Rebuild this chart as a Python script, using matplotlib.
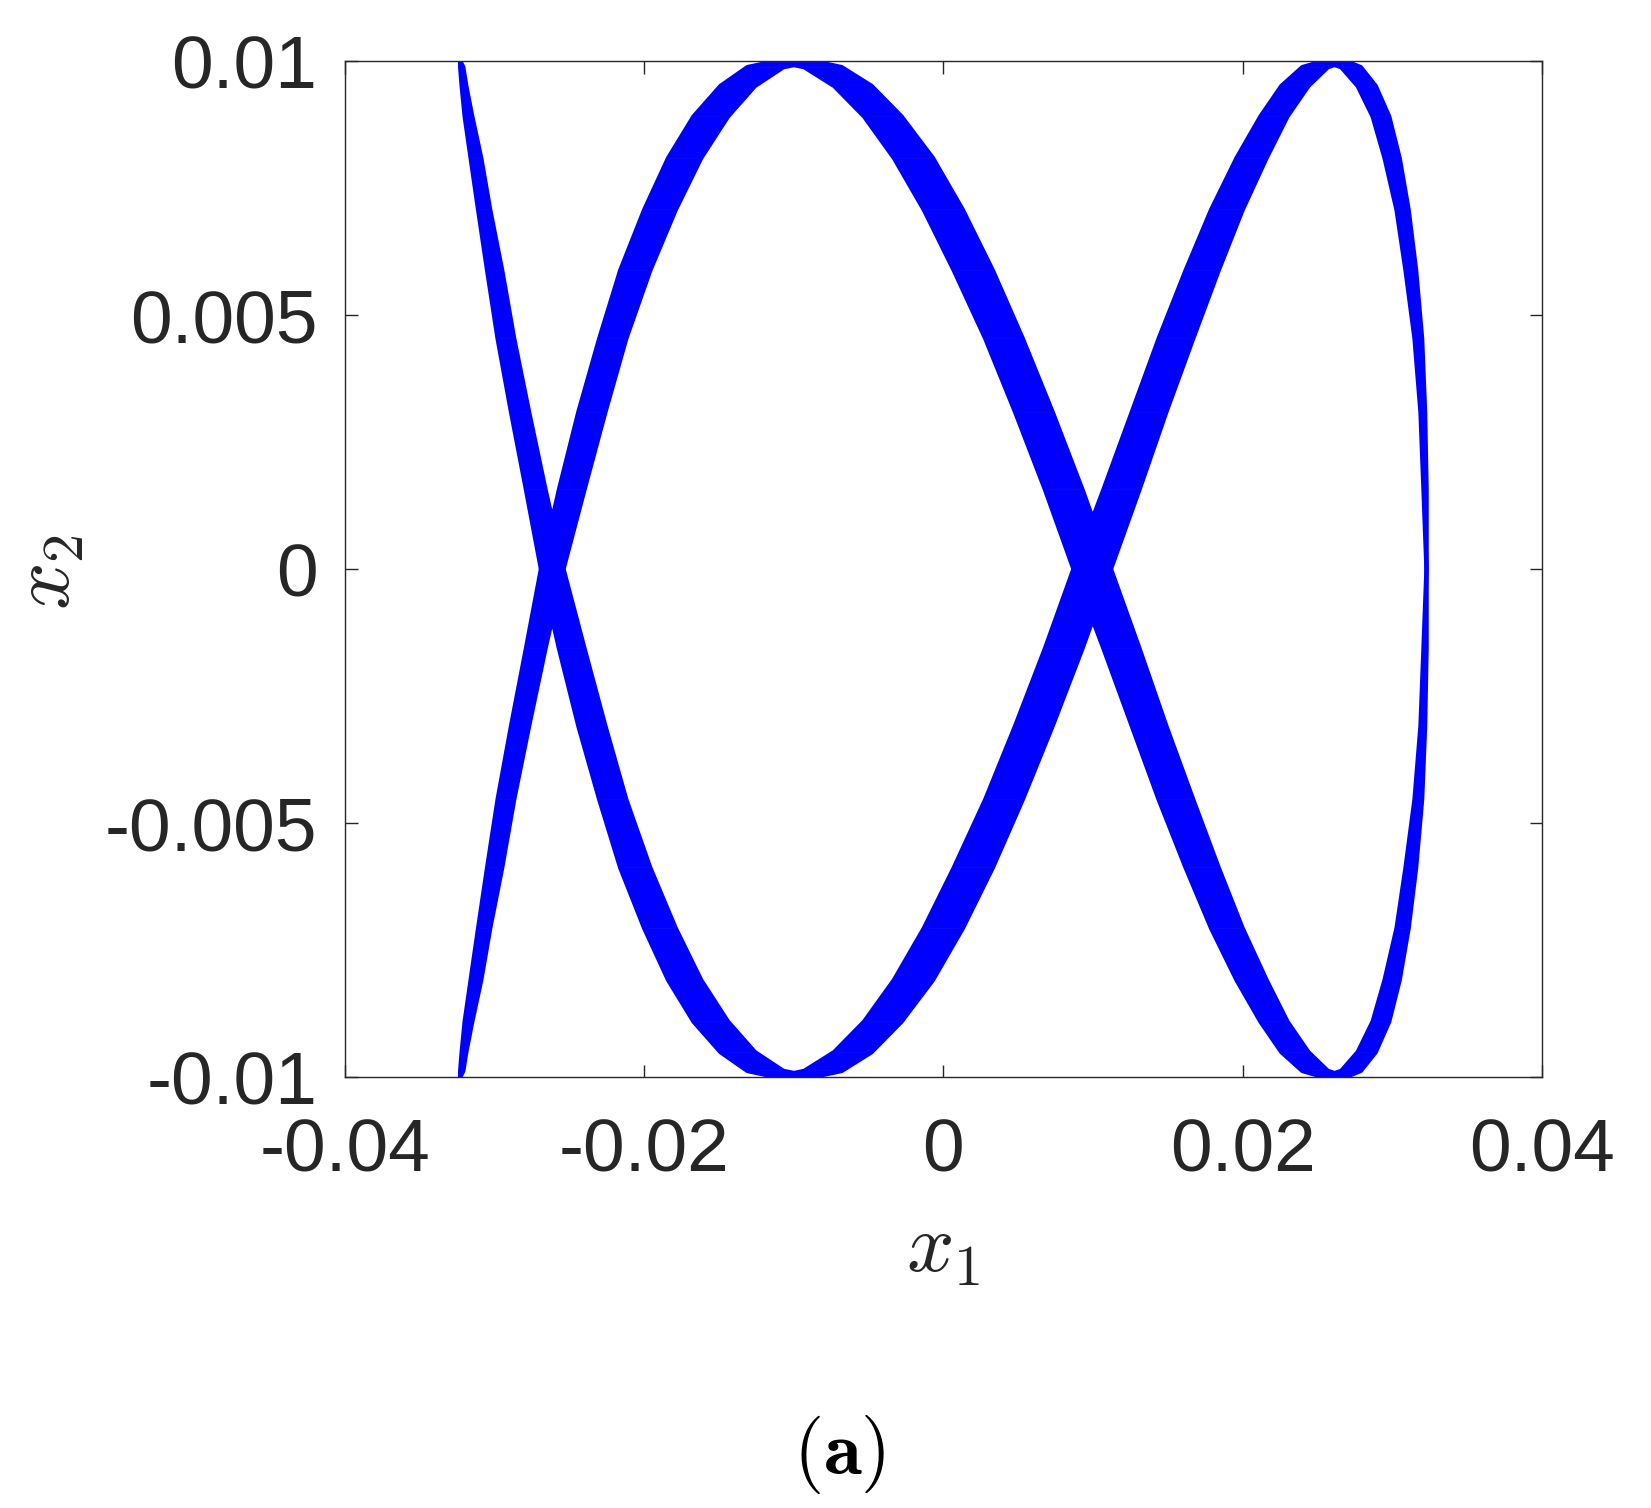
import matplotlib
matplotlib.use('Agg')
import matplotlib.pyplot as plt
from matplotlib.collections import PolyCollection

plt.rcParams['font.family'] = ['Liberation Sans', 'DejaVu Sans']
plt.rcParams['mathtext.fontset'] = 'cm'

# trajectory (units of 1e-3); two traces bound the blue band
x2_vals = [10.0, 9.88, 9.51, 8.91, 8.09, 7.07, 5.88, 4.54, 3.09, 1.56,
           0.0, -1.56, -3.09, -4.54, -5.88, -7.07, -8.09, -8.91, -9.51, -9.88,
           -10.0, -9.88, -9.51, -8.91, -8.09, -7.07, -5.88, -4.54, -3.09, -1.56,
           0.0, 1.56, 3.09, 4.54, 5.88, 7.07, 8.09, 8.91, 9.51, 9.88,
           10.0, 9.88, 9.51, 8.91, 8.09, 7.07, 5.88, 4.54, 3.09, 1.56,
           0.0, -1.56, -3.09, -4.54, -5.88, -7.07, -8.09, -8.91, -9.51, -9.88,
           -10.0, -9.88, -9.51, -8.91, -8.09, -7.07, -5.88, -4.54, -3.09, -1.56,
           0.0, 1.56, 3.09, 4.54, 5.88, 7.07, 8.09, 8.91, 9.51, 9.88,
           10.0, 9.88, 9.51, 8.91, 8.09, 7.07, 5.88, 4.54, 3.09, 1.56,
           0.0, -1.56, -3.09, -4.54, -5.88, -7.07, -8.09, -8.91, -9.51, -9.88,
           -10.0]
x1_trace_a = [-32.3, -32.3, -32.2, -32.0, -31.6, -31.1, -30.5, -29.8, -28.9, -27.9,
              -26.9, -25.7, -24.4, -23.0, -21.6, -20.0, -18.4, -16.7, -14.9, -13.1,
              -11.2, -9.3, -7.3, -5.3, -3.3, -1.3, 0.7, 2.8, 4.8, 6.8,
              8.7, 10.7, 12.6, 14.4, 16.2, 17.9, 19.6, 21.2, 22.6, 24.0,
              25.4, 26.6, 27.7, 28.7, 29.5, 30.3, 30.9, 31.5, 31.9, 32.1,
              32.3, 32.3, 32.2, 32.0, 31.6, 31.1, 30.5, 29.8, 28.9, 27.9,
              26.9, 25.7, 24.4, 23.0, 21.6, 20.0, 18.4, 16.7, 14.9, 13.1,
              11.2, 9.3, 7.3, 5.3, 3.3, 1.3, -0.7, -2.8, -4.8, -6.8,
              -8.7, -10.7, -12.6, -14.4, -16.2, -17.9, -19.6, -21.2, -22.6, -24.0,
              -25.4, -26.6, -27.7, -28.7, -29.5, -30.3, -30.9, -31.5, -31.9, -32.1,
              -32.3]
x1_trace_b = [-32.3, -32.1, -31.9, -31.5, -30.9, -30.3, -29.5, -28.7, -27.7, -26.6,
              -25.4, -24.0, -22.6, -21.2, -19.6, -17.9, -16.2, -14.4, -12.6, -10.7,
              -8.7, -6.8, -4.8, -2.8, -0.7, 1.3, 3.3, 5.3, 7.3, 9.3,
              11.2, 13.1, 14.9, 16.7, 18.4, 20.0, 21.6, 23.0, 24.4, 25.7,
              26.9, 27.9, 28.9, 29.8, 30.5, 31.1, 31.6, 32.0, 32.2, 32.3,
              32.3, 32.1, 31.9, 31.5, 30.9, 30.3, 29.5, 28.7, 27.7, 26.6,
              25.4, 24.0, 22.6, 21.2, 19.6, 17.9, 16.2, 14.4, 12.6, 10.7,
              8.7, 6.8, 4.8, 2.8, 0.7, -1.3, -3.3, -5.3, -7.3, -9.3,
              -11.2, -13.1, -14.9, -16.7, -18.4, -20.0, -21.6, -23.0, -24.4, -25.7,
              -26.9, -27.9, -28.9, -29.8, -30.5, -31.1, -31.6, -32.0, -32.2, -32.3,
              -32.3]

xticks = [-0.04, -0.02, 0, 0.02, 0.04]
xtick_labels = ['-0.04', '-0.02', '0', '0.02', '0.04']
yticks = [-0.01, -0.005, 0, 0.005, 0.01]
ytick_labels = ['-0.01', '-0.005', '0', '0.005', '0.01']

x2 = [v * 1e-3 for v in x2_vals]
xa = [v * 1e-3 for v in x1_trace_a]
xb = [v * 1e-3 for v in x1_trace_b]

fig = plt.figure(figsize=(16.51, 15.08), dpi=100)
ax = fig.add_axes([0.209, 0.2858, 0.7248, 0.6737])

# fill the band between the two traces, segment by segment
quads = []
for i in range(len(x2) - 1):
    quads.append([(xa[i], x2[i]), (xa[i + 1], x2[i + 1]),
                  (xb[i + 1], x2[i + 1]), (xb[i], x2[i])])
ax.add_collection(PolyCollection(quads, facecolors='#0000ff', edgecolors='#0000ff', linewidths=0.5))
ax.plot(xa, x2, color='#0000ff', lw=3.2)
ax.plot(xb, x2, color='#0000ff', lw=3.2)

ax.set_xlim(-0.04, 0.04)
ax.set_ylim(-0.01, 0.01)
ax.set_xticks(xticks)
ax.set_xticklabels(xtick_labels)
ax.set_yticks(yticks)
ax.set_yticklabels(ytick_labels)

dark = '#262626'
for s in ax.spines.values():
    s.set_color(dark)
    s.set_linewidth(1.0)
ax.tick_params(direction='in', length=9, width=1.0, color=dark, labelcolor=dark,
               labelsize=54, top=True, right=True)
ax.tick_params(axis='x', pad=29)
ax.tick_params(axis='y', pad=20)

fig.text(943 / 1651, 1 - 1250 / 1508, r'$x_1$', fontsize=60, color=dark, ha='center', va='center')
fig.text(48 / 1651, 1 - 572 / 1508, r'$x_2$', fontsize=60, color=dark, ha='center', va='center', rotation=90)
fig.text(839 / 1651, 1 - 1455 / 1508, r'$\mathbf{(a)}$', fontsize=56, color='black', ha='center', va='center')

fig.savefig('out.png', dpi=100)
